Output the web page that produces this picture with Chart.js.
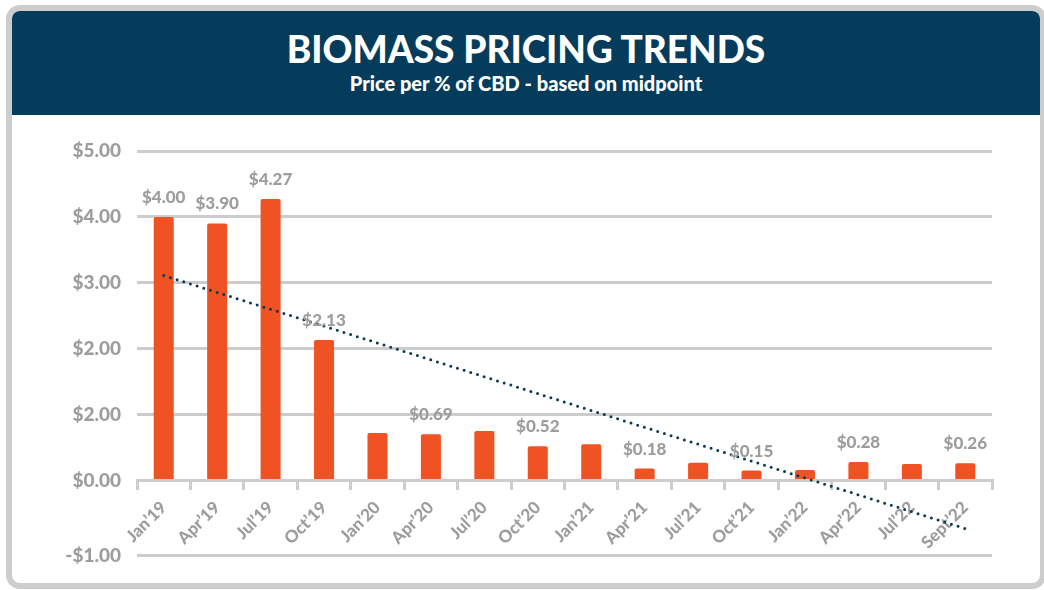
<!DOCTYPE html>
<html>
<head>
<meta charset="utf-8">
<script src="https://cdn.jsdelivr.net/npm/chart.js@4"></script>
<style>
  body { margin: 0; background: #fff; font-family: Lato, "Open Sans", sans-serif; }
  .card {
    position: absolute; left: 6px; top: 5px; width: 1040px; height: 584px;
    box-sizing: border-box; border: 6px solid #cdcdcd; border-radius: 14px; background: #fff;
  }
  .header {
    position: absolute; left: 0; top: 0; width: 1028px; height: 104px;
    background: #053c5b; border-radius: 8px 8px 0 0; color: #fff; text-align: center;
  }
  .header h1 { margin: 0; padding-top: 15px; font-size: 37px; font-weight: 900; letter-spacing: 0px; }
  .header p { margin: 0; font-size: 20px; font-weight: 900; }
  .chartBox { position: absolute; left: 0; top: 104px; width: 1028px; height: 468px; }
</style>
</head>
<body>
<div class="card">
  <div class="header">
    <h1>BIOMASS PRICING TRENDS</h1>
    <p>Price per % of CBD - based on midpoint</p>
  </div>
  <div class="chartBox"><canvas id="biomassChart"></canvas></div>
</div>
<script>
const ctx = document.getElementById("biomassChart").getContext("2d");

const labels = [
    "Jan’19", "Apr’19", "Jul’19", "Oct’19",
    "Jan’20", "Apr’20", "Jul’20", "Oct’20",
    "Jan’21", "Apr’21", "Jul’21", "Oct’21",
    "Jan’22", "Apr’22", "Jul’22", "Sept’22",
];

// price per % CBD
const prices = [4.00, 3.90, 4.27, 2.13, 0.72, 0.70, 0.75, 0.52, 0.55, 0.18, 0.27, 0.15, 0.16, 0.28, 0.25, 0.26];

// value labels shown above some bars only
const priceLabels = ["$4.00", "$3.90", "$4.27", "$2.13", "", "$0.69", "", "$0.52", "", "$0.18", "", "$0.15", "", "$0.28", "", "$0.26"];

// dotted trendline, only its two ends
const trend = [3.11, null, null, null, null, null, null, null, null, null, null, null, null, null, null, -0.73];

// y ticks (the original labels 1.00 as "$2.00")
const tickValues = [5, 4, 3, 2, 1, 0, -1.14];
const tickLabels = ["$5.00", "$4.00", "$3.00", "$2.00", "$2.00", "$0.00", "-$1.00"];

const grey = "#9d9d9d";
const gridGrey = "#cccccc";

//draw the $ labels over the bars
const barLabels = {
    id: "barLabels",
    afterDatasetsDraw(chart) {
        const meta = chart.getDatasetMeta(0);
        const c = chart.ctx;
        c.save();
        c.font = "900 17px Lato, sans-serif";
        c.fillStyle = grey;
        c.textAlign = "center";
        c.textBaseline = "bottom";
        meta.data.forEach((bar, i) => {
            if (priceLabels[i]) c.fillText(priceLabels[i], bar.x, bar.y - 11);
        });
        c.restore();
    }
};

const config = {
    data: {
        labels,
        datasets: [
        {
            type: "bar",
            data: prices,
            backgroundColor: "#f05323",
            borderRadius: 2,
            borderSkipped: "bottom",
            barPercentage: 0.75,
            categoryPercentage: 0.5,
            order: 2,
        },
        {
            type: "line",
            data: trend,
            spanGaps: true,
            borderColor: "#0b3a54",
            borderWidth: 3,
            borderDash: [0, 7],
            borderCapStyle: "round",
            pointRadius: 0,
            order: 1,
        },
      ]
    },
    options: {
        responsive: true,
        maintainAspectRatio: false,
        animation: false,
        layout: { padding: { left: 0, right: 48, top: 36, bottom: 26 } },
        plugins: {
            legend: { display: false },
            tooltip: { enabled: false },
        },
        scales: {
            y: {
                min: -1.14,
                max: 5,
                afterBuildTicks: (scale) => {
                    scale.ticks = tickValues.map(v => ({ value: v }));
                },
                afterFit: (scale) => { scale.width = 125; },
                grid: { color: gridGrey, lineWidth: 3, drawTicks: false },
                border: { display: false },
                ticks: {
                    padding: 16,
                    color: grey,
                    font: { family: "Lato", size: 19, weight: "900" },
                    callback: (v, i) => tickLabels[i],
                }
            },
            x: {
                position: { y: 0 },
                grid: { offset: true, drawOnChartArea: false, color: gridGrey, lineWidth: 3, tickLength: 8 },
                border: { display: true, color: gridGrey, width: 3 },
                ticks: {
                    color: grey,
                    padding: 9,
                    maxRotation: 45,
                    minRotation: 45,
                    font: { family: "Lato", size: 17, weight: "900" },
                }
            }
        },
    },
    plugins: [barLabels],
};

const biomassChart = new Chart(ctx, config);
</script>
</body>
</html>
